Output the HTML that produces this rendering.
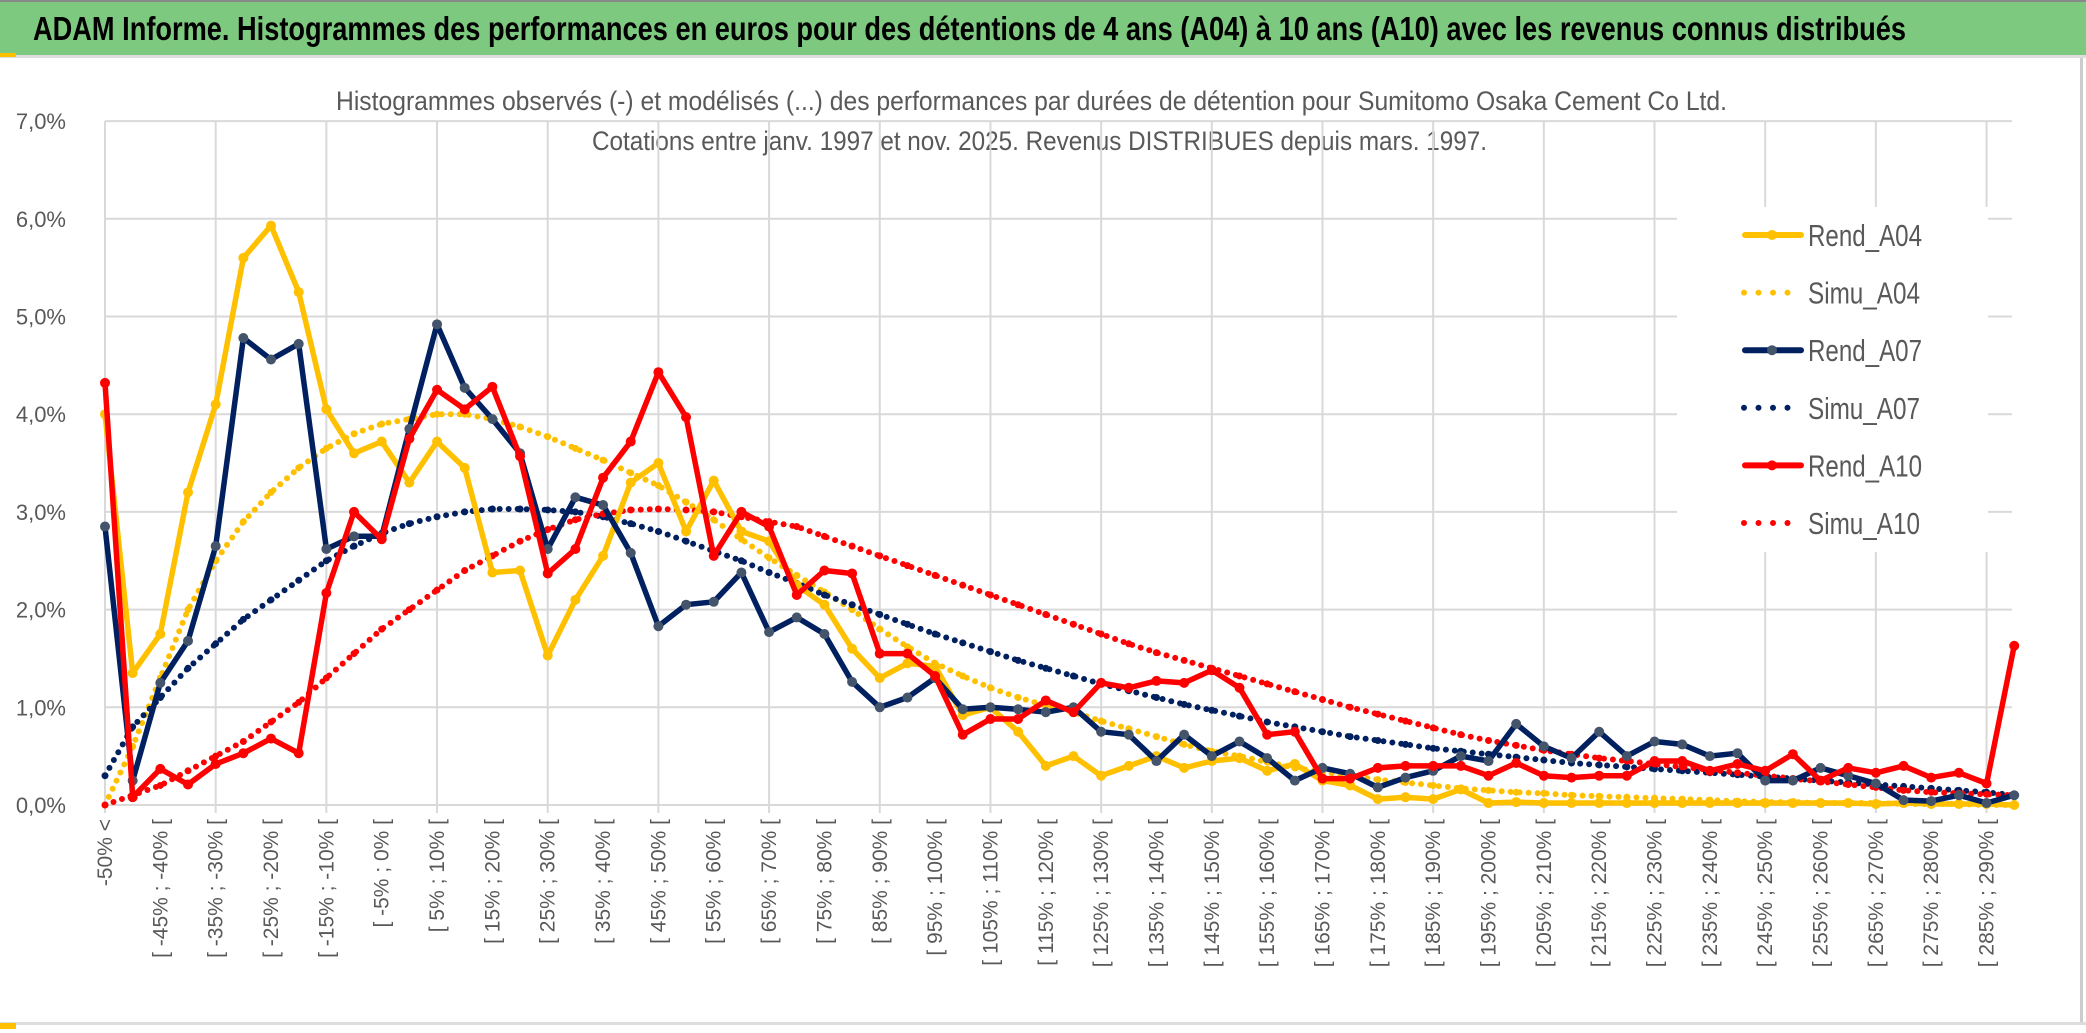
<!DOCTYPE html>
<html><head><meta charset="utf-8"><style>
html,body{margin:0;padding:0;background:#fff}
svg{display:block}
text{font-family:"Liberation Sans Narrow","Liberation Sans",sans-serif}
</style></head><body>
<svg id="chart" width="2086" height="1033" viewBox="0 0 2086 1033" xmlns="http://www.w3.org/2000/svg">
<rect x="0" y="0" width="2086" height="1033" fill="#fff"/>
<rect x="0" y="2" width="2086" height="53" fill="#7DC97F"/>
<rect x="0" y="0" width="2086" height="2" fill="#888"/>
<rect x="0" y="55" width="2086" height="3" fill="#ddd"/>
<rect x="0" y="53" width="16" height="4" fill="#FFC000"/>
<text x="33" y="40" font-size="33" font-weight="bold" fill="#000" textLength="1873" lengthAdjust="spacingAndGlyphs">ADAM Informe. Histogrammes des performances en euros pour des détentions de 4 ans (A04) à 10 ans (A10) avec les revenus connus distribués</text>
<text x="336" y="110" font-size="27" fill="#595959" textLength="1391" lengthAdjust="spacingAndGlyphs">Histogrammes observés (-) et modélisés (...) des performances par durées de détention pour Sumitomo Osaka Cement Co Ltd.</text>
<text x="592" y="150" font-size="27" fill="#595959" textLength="895" lengthAdjust="spacingAndGlyphs">Cotations entre janv. 1997 et nov. 2025. Revenus DISTRIBUES depuis mars. 1997.</text>
<rect x="2080" y="58" width="3" height="965" fill="#ccc"/>
<rect x="0" y="1022" width="2086" height="3" fill="#ddd"/>
<rect x="0" y="1023" width="16" height="6" fill="#FFC000"/>
<g id="grid"></g>
<g id="series"></g>
<g id="legend"></g>
</svg>
<script>
const categories = (function(){ const c=["-50% <"]; for(let a=-50;a<295;a+=5){ c.push("[ "+a+"% ; "+(a+5)+"% ["); } return c; })();
const yTicks = [0,1,2,3,4,5,6,7];
const yTickLabels = ["0,0%","1,0%","2,0%","3,0%","4,0%","5,0%","6,0%","7,0%"];
const rendA04 = [4.0,1.35,1.75,3.2,4.1,5.6,5.93,5.25,4.05,3.6,3.72,3.3,3.72,3.45,2.38,2.4,1.53,2.1,2.55,3.3,3.5,2.8,3.32,2.8,2.7,2.25,2.05,1.6,1.3,1.45,1.42,0.92,1.0,0.75,0.4,0.5,0.3,0.4,0.5,0.38,0.45,0.48,0.35,0.42,0.25,0.2,0.06,0.08,0.06,0.16,0.02,0.03,0.02,0.02,0.02,0.02,0.02,0.02,0.02,0.02,0.02,0.02,0.02,0.02,0.01,0.02,0.01,0.01,0.01,0.0];
const simuA04 = [0.0,0.6,1.3,2.0,2.5,2.9,3.2,3.45,3.65,3.8,3.9,3.95,4.0,4.0,3.95,3.87,3.77,3.65,3.53,3.4,3.27,3.1,2.92,2.72,2.53,2.35,2.18,2.0,1.8,1.62,1.45,1.32,1.2,1.1,1.02,0.95,0.86,0.78,0.7,0.62,0.55,0.5,0.44,0.38,0.34,0.3,0.26,0.23,0.2,0.17,0.15,0.13,0.12,0.1,0.09,0.08,0.07,0.06,0.05,0.04,0.03,0.03,0.02,0.02,0.02,0.01,0.01,0.01,0.0,0.0];
const rendA07 = [2.85,0.25,1.25,1.68,2.65,4.78,4.56,4.72,2.62,2.75,2.75,3.85,4.92,4.27,3.95,3.6,2.62,3.15,3.07,2.58,1.83,2.05,2.08,2.38,1.77,1.92,1.75,1.26,1.0,1.1,1.3,0.98,1.0,0.98,0.95,1.0,0.75,0.72,0.45,0.72,0.5,0.65,0.48,0.25,0.38,0.32,0.18,0.28,0.35,0.5,0.45,0.83,0.6,0.48,0.75,0.5,0.65,0.62,0.5,0.53,0.25,0.25,0.38,0.3,0.22,0.05,0.04,0.1,0.02,0.1];
const simuA07 = [0.3,0.8,1.1,1.4,1.65,1.9,2.1,2.3,2.5,2.65,2.78,2.88,2.95,3.0,3.03,3.03,3.02,3.0,2.95,2.88,2.8,2.7,2.6,2.5,2.38,2.27,2.15,2.05,1.95,1.85,1.75,1.66,1.57,1.48,1.4,1.32,1.24,1.17,1.1,1.03,0.97,0.91,0.85,0.8,0.75,0.7,0.66,0.62,0.58,0.55,0.52,0.49,0.46,0.43,0.41,0.39,0.37,0.35,0.33,0.31,0.29,0.27,0.25,0.23,0.21,0.19,0.17,0.15,0.13,0.1];
const rendA10 = [4.32,0.08,0.37,0.21,0.42,0.53,0.68,0.53,2.17,3.0,2.72,3.75,4.25,4.05,4.28,3.57,2.37,2.62,3.35,3.72,4.43,3.97,2.55,3.0,2.85,2.15,2.4,2.37,1.55,1.55,1.32,0.72,0.88,0.88,1.07,0.95,1.25,1.2,1.27,1.25,1.38,1.2,0.72,0.75,0.27,0.27,0.38,0.4,0.4,0.4,0.3,0.43,0.3,0.28,0.3,0.3,0.45,0.45,0.35,0.42,0.35,0.52,0.25,0.38,0.33,0.4,0.28,0.33,0.22,1.63];
const simuA10 = [0.0,0.1,0.2,0.35,0.5,0.65,0.85,1.05,1.3,1.55,1.8,2.0,2.2,2.4,2.55,2.7,2.82,2.92,2.98,3.02,3.03,3.02,3.0,2.95,2.9,2.85,2.75,2.65,2.55,2.45,2.35,2.25,2.15,2.05,1.95,1.85,1.75,1.65,1.56,1.48,1.4,1.32,1.24,1.16,1.08,1.0,0.93,0.86,0.79,0.72,0.66,0.61,0.56,0.52,0.48,0.45,0.42,0.39,0.36,0.33,0.3,0.27,0.24,0.21,0.18,0.15,0.13,0.12,0.11,0.1];

const NS="http://www.w3.org/2000/svg";
const X0=105, DX=27.67, Y0=805, PY=97.7, RIGHT=2012;
function xs(i){return X0+i*DX;}
function ys(v){return Y0-v*PY;}
function mk(tag,attrs,parent){const e=document.createElementNS(NS,tag);for(const k in attrs)e.setAttribute(k,attrs[k]);parent.appendChild(e);return e;}
const grid=document.getElementById('grid');
yTicks.forEach((t,k)=>{
  const l=mk('line',{x1:X0,x2:RIGHT,y1:ys(t),y2:ys(t),stroke:'#D9D9D9','stroke-width':2},grid);
  
  
  const tx=mk('text',{x:66,y:ys(t)+8,'font-size':22,fill:'#595959','text-anchor':'end'},grid);
  tx.textContent=yTickLabels[k];
  
  
});
for(let i=0;i<categories.length;i+=4){
  const l=mk('line',{x1:xs(i),x2:xs(i),y1:ys(7),y2:Y0+8,stroke:'#D9D9D9','stroke-width':2},grid);
  
  
}
for(let i=0;i<categories.length;i+=2){
  const tx=mk('text',{x:0,y:0,'font-size':21,fill:'#595959','text-anchor':'end',transform:'translate('+(xs(i)+7)+','+(Y0+14)+') rotate(-90)'},grid);
  tx.setAttribute('font-family','"Liberation Sans",sans-serif');
  tx.textContent=categories[i];
  
  
}
const ser=document.getElementById('series');
function pts(d){return d.map((v,i)=>xs(i).toFixed(1)+','+ys(v).toFixed(1)).join(' ');}
function simu(d,color,name){
  const p=mk('polyline',{points:pts(d),fill:'none',stroke:color,'stroke-width':6,'stroke-dasharray':'0 9','stroke-linecap':'round'},ser);
  
  
  d.forEach((v,i)=>{const c=mk('circle',{cx:xs(i),cy:ys(v),r:3.5,fill:color},ser);
    
    });
}
function rend(d,color,mcol,name){
  const p=mk('polyline',{points:pts(d),fill:'none',stroke:color,'stroke-width':5.5,'stroke-linejoin':'round'},ser);
  
  
  d.forEach((v,i)=>{const c=mk('circle',{cx:xs(i),cy:ys(v),r:5,fill:mcol},ser);
    
    });
}
simu(simuA04,'#FFC000','simu-a04-line');
simu(simuA07,'#002060','simu-a07-line');
simu(simuA10,'#FF0000','simu-a10-line');
rend(rendA04,'#FFC000','#FFC000','rend-a04-line');
rend(rendA07,'#002060','#44546A','rend-a07-line');
rend(rendA10,'#FF0000','#FF0000','rend-a10-line');
const lg=document.getElementById('legend');
const lbg=mk('rect',{x:1677,y:207,width:311,height:345,fill:'#fff'},lg);


const legendNames=['Rend_A04','Simu_A04','Rend_A07','Simu_A07','Rend_A10','Simu_A10'];
const legendColors=['#FFC000','#FFC000','#002060','#002060','#FF0000','#FF0000'];
legendNames.forEach((n,k)=>{
  const y=235+k*57.6;
  const g=mk('g',{},lg);
  
  
  if(n.startsWith('Rend')){
    mk('line',{x1:1745,x2:1801,y1:y,y2:y,stroke:legendColors[k],'stroke-width':6,'stroke-linecap':'round'},g);
    mk('circle',{cx:1772,cy:y,r:5,fill:n==='Rend_A07'?'#44546A':legendColors[k]},g);
  } else {
    mk('line',{x1:1744,x2:1800,y1:y,y2:y,stroke:legendColors[k],'stroke-width':6,'stroke-dasharray':'0 14.5','stroke-linecap':'round'},g);
  }
  const t=mk('text',{x:1808,y:y+11,'font-size':31,fill:'#595959',textLength:n.startsWith('Rend')?114:112,lengthAdjust:'spacingAndGlyphs'},g);
  t.textContent=n;
});
</script>
</body></html>
